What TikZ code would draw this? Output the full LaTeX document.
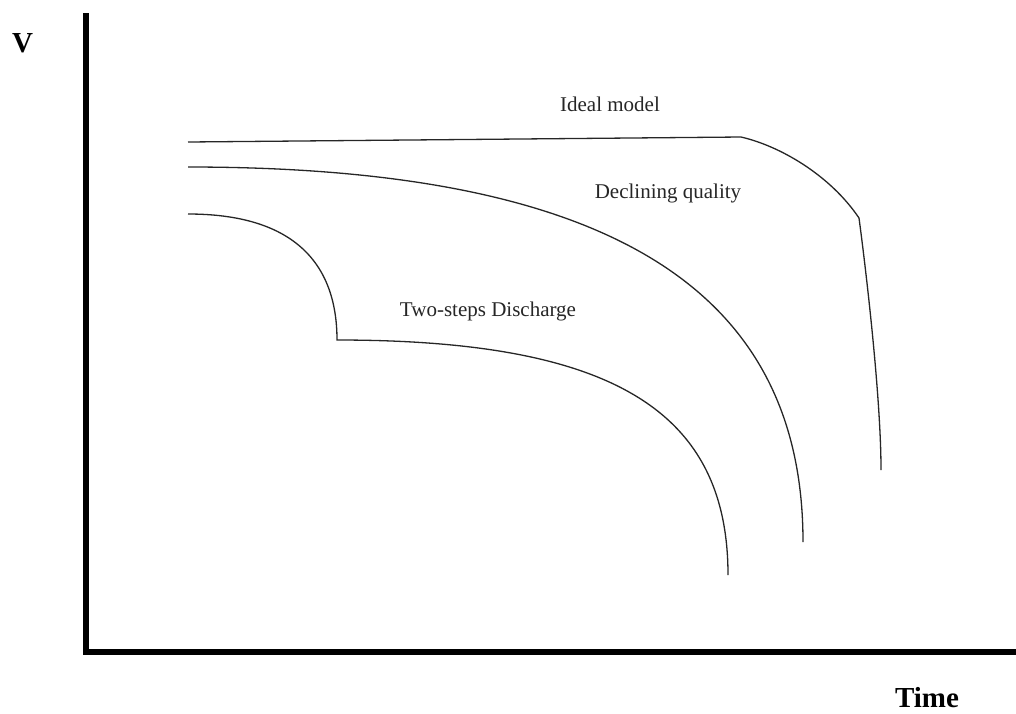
\documentclass[tikz,border=0pt]{standalone}
\usepackage{fontspec}
\setmainfont{Liberation Serif}
\begin{document}
\begin{tikzpicture}[x=1pt,y=-1pt,
  curve/.style={line width=1.3pt,black!85,line cap=butt},
  axisline/.style={line width=6pt,black,line join=miter},
  lbl/.style={font=\fontsize{21}{21}\selectfont,anchor=base,inner sep=0pt,text=black!85},
  axlbl/.style={font=\fontsize{29}{29}\selectfont\bfseries,anchor=base,inner sep=0pt}]
\useasboundingbox (0,0) rectangle (1016,713);
% axes
\draw[axisline] (86,13) -- (86,652) -- (1016,652);
\node[axlbl] (v) at (22.5,52) {V};
\node[axlbl] (time) at (927,707) {Time};
% ideal model
\draw[curve] (188,142) -- (741,137) .. controls (780,146) and (830,175) .. (859,218)
  .. controls (867,278) and (881,400) .. (881,470);
% declining quality
\draw[curve] (188,167) .. controls (606,167) and (803,287) .. (803,542);
% two-steps discharge
\draw[curve] (188,214) .. controls (290,214) and (337,260) .. (337,340)
  .. controls (611,340) and (728,410) .. (728,575);
% labels
\node[lbl] (ideal) at (610,111) {Ideal model};
\node[lbl] (decl) at (668,198) {Declining quality};
\node[lbl] (two) at (488,316) {Two-steps Discharge};
\end{tikzpicture}
\end{document}
